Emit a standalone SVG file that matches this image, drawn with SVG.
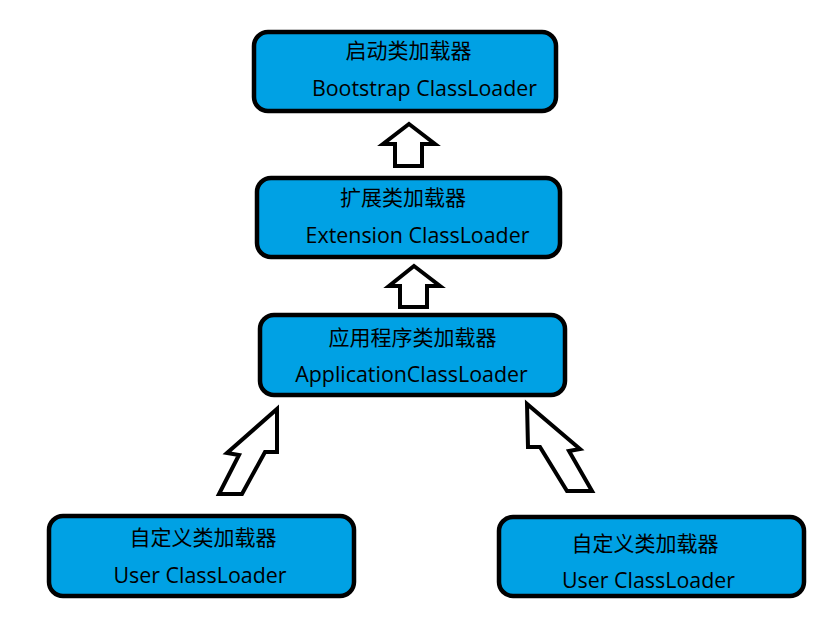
<svg xmlns="http://www.w3.org/2000/svg" width="839" height="632" viewBox="0 0 839 632">
<style>
.box{fill:#00A1E4;stroke:#000;stroke-width:4.5}
.arr{fill:#fff;stroke:#000;stroke-width:4;stroke-linejoin:miter}
.zh{font-family:"Noto Sans CJK SC","Noto Sans",sans-serif;font-size:21px;fill:#000;text-anchor:middle}
.en{font-family:"Open Sans","Noto Sans",sans-serif;font-size:21.4px;fill:#000;text-anchor:middle}
</style>
<rect width="839" height="632" fill="#fff"/>
<g id="connectors">
<polygon class="arr" points="409,124 435,144 422,144 422,166 395,166 395,144 383,144"/>
<polygon class="arr" points="414,266 440,286 427,286 427,307 400,307 400,286 389,286"/>
<polygon class="arr" points="277,409 277,452 265,452 242,494 219,494 239,455 227,453"/>
<polygon class="arr" points="527,404 528,447 540,447 567,491 592,491 569,451 580,449"/>
</g>
<g id="bootstrap">
<rect class="box" x="254" y="32" width="302" height="79" rx="14"/>
<text class="zh" x="408.5" y="58">启动类加载器</text>
<text class="en" x="424.5" y="96">Bootstrap ClassLoader</text>
</g>
<g id="extension">
<rect class="box" x="257" y="178" width="303" height="79" rx="14"/>
<text class="zh" x="403" y="205">扩展类加载器</text>
<text class="en" x="417.5" y="243">Extension ClassLoader</text>
</g>
<g id="application">
<rect class="box" x="260" y="315" width="305" height="80" rx="14"/>
<text class="zh" x="412.5" y="345">应用程序类加载器</text>
<text class="en" x="411.5" y="382">ApplicationClassLoader</text>
</g>
<g id="user-left">
<rect class="box" x="49" y="516" width="305" height="80" rx="14"/>
<text class="zh" x="203" y="545">自定义类加载器</text>
<text class="en" x="200" y="583">User ClassLoader</text>
</g>
<g id="user-right">
<rect class="box" x="499" y="517" width="305" height="79" rx="14"/>
<text class="zh" x="645" y="551">自定义类加载器</text>
<text class="en" x="648.5" y="588">User ClassLoader</text>
</g>
</svg>
